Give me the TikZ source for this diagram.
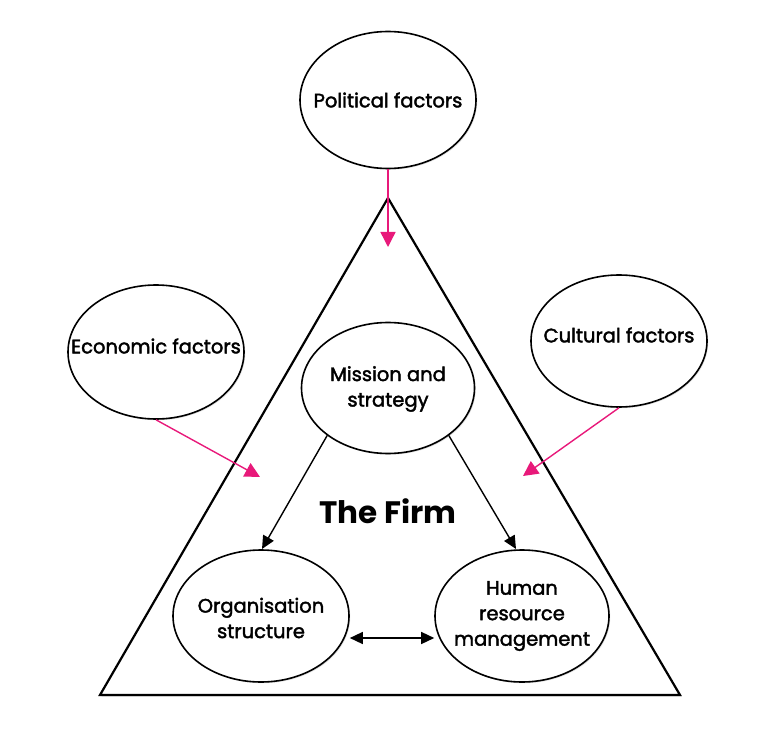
\documentclass[tikz,border=0pt]{standalone}
\usepackage{fontspec}
\setmainfont{Poppins}
\newfontfamily\medfont{Poppins}[FakeBold=2]
\usetikzlibrary{arrows.meta,shapes.geometric,shadows}
\definecolor{mag}{HTML}{E8197A}
\tikzset{
  factor/.style={ellipse, draw=black, line width=1.6pt, fill=white, inner sep=0pt,
    drop shadow={opacity=0.25, shadow xshift=1.2pt, shadow yshift=-1.2pt}},
  ftext/.style={font=\medfont\fontsize{19.5}{25.5}\selectfont, align=center, inner sep=0pt},
  magarrow/.style={draw=mag, line width=1.4pt, -{Triangle[length=15pt,width=15pt]}},
  blkarrow/.style={draw=black, line width=1.4pt, -{Triangle[length=13pt,width=12pt]}},
  dblarrow/.style={draw=black, line width=1.4pt, {Triangle[length=13pt,width=12pt]}-{Triangle[length=13pt,width=12pt]}},
}
\begin{document}
\begin{tikzpicture}[x=1pt,y=-1pt]
\useasboundingbox (0,0) rectangle (768,751);
% triangle
\coordinate (apex) at (388,198);
\coordinate (bl) at (100,695);
\coordinate (br) at (680,695);
\draw[line width=2.2pt, line join=miter, fill=white,
  drop shadow={opacity=0.25, shadow xshift=1.5pt, shadow yshift=-1.5pt}] (apex) -- (br) -- (bl) -- cycle;
% outer factors
\node[factor, minimum width=176pt, minimum height=137pt,
  label={[ftext]center:Political factors}] (pol) at (388,100) {};
\node[factor, minimum width=176pt, minimum height=134pt,
  label={[ftext, yshift=6pt]center:Economic factors}] (eco) at (156,352) {};
\node[factor, minimum width=176pt, minimum height=132pt,
  label={[ftext, yshift=6pt]center:Cultural factors}] (cul) at (619,341) {};
% inner
\node[factor, minimum width=173pt, minimum height=131pt,
  label={[ftext, yshift=-1pt]center:Mission and\\strategy}] (mis) at (388,388) {};
\node[factor, minimum width=176pt, minimum height=132pt,
  label={[ftext, yshift=-2pt]center:Organisation\\structure}] (org) at (261,616) {};
\node[factor, minimum width=174pt, minimum height=132pt,
  label={[ftext]center:Human\\resource\\management}] (hrm) at (522,616) {};
\node[font=\fontsize{31}{34}\selectfont\bfseries] (firm) at (388,511) {The Firm};
% tips
\coordinate (tpol) at (388,247);
\coordinate (teco) at (260,477);
\coordinate (tcul) at (523,476);
\coordinate (torg) at (262,549);
\coordinate (thrm) at (516,549);
% arrows
\draw[magarrow] (pol.south) -- (tpol);
\draw[magarrow] (eco.south) -- (teco);
\draw[magarrow] (cul.south) -- (tcul);
\draw[blkarrow] (mis.-142) -- (torg);
\draw[blkarrow] (mis.-38) -- (thrm);
\draw[dblarrow] ([yshift=-22pt]org.east) -- ([yshift=-22pt]hrm.west);
\end{tikzpicture}
\end{document}
